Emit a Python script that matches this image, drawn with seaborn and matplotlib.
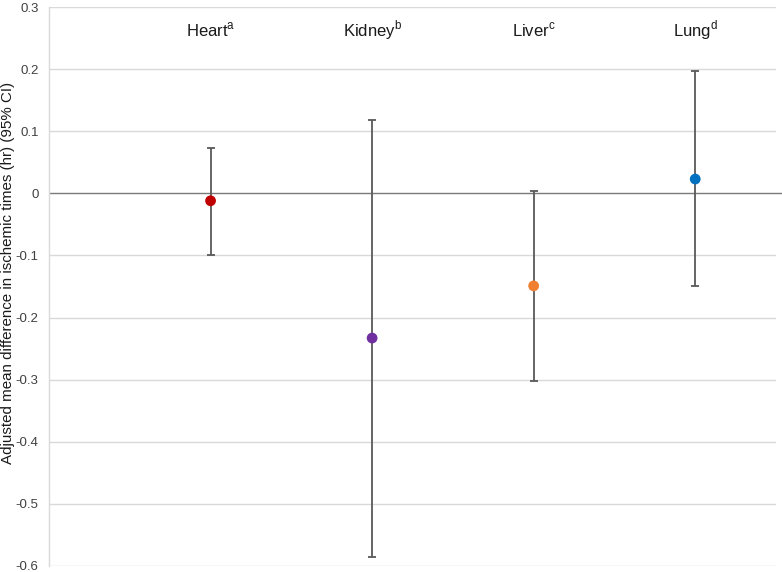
import matplotlib
matplotlib.use("Agg")
import matplotlib.pyplot as plt
import seaborn as sns
import pandas as pd

organs = ["Heart", "Kidney", "Liver", "Lung"]
superscripts = ["a", "b", "c", "d"]
estimates = [-0.012, -0.233, -0.149, 0.023]
ci_lower = [-0.100, -0.586, -0.302, -0.149]
ci_upper = [0.073, 0.118, 0.004, 0.197]
colors = ["#C00000", "#7030A0", "#F08030", "#0070C0"]
yticks = [0.3, 0.2, 0.1, 0.0, -0.1, -0.2, -0.3, -0.4, -0.5, -0.6]
ytick_labels = ["0.3", "0.2", "0.1", "0", "-0.1", "-0.2", "-0.3", "-0.4", "-0.5", "-0.6"]
ylabel = "Adjusted mean difference in ischemic times (hr) (95% CI)"

sns.set_style("white")
plt.rcParams["font.family"] = ["Liberation Sans", "DejaVu Sans"]
plt.rcParams["mathtext.fontset"] = "custom"
plt.rcParams["mathtext.rm"] = "Liberation Sans"
plt.rcParams["axes.unicode_minus"] = False

df = pd.DataFrame({"organ": organs, "x": range(len(organs)), "est": estimates,
                   "lo": ci_lower, "hi": ci_upper})

fig = plt.figure(figsize=(7.82, 5.72), dpi=100)
ax = fig.add_axes([49/782, 1-566/572, (776-49)/782, (566-7)/572])

for y in yticks:
    if y != 0:
        ax.axhline(y, color="#d9d9d9", lw=1.0, zorder=0)
ax.plot([-1.0, 3.54], [0, 0], color="#7a7a7a", lw=1.0, zorder=1, clip_on=False)

ax.errorbar(df["x"], df["est"],
            yerr=[df["est"] - df["lo"], df["hi"] - df["est"]],
            fmt="none", ecolor="#595959", elinewidth=1.3, capsize=3, capthick=1.3, zorder=2)
sns.scatterplot(data=df, x="x", y="est", hue="organ", palette=colors, s=60,
                edgecolor="none", legend=False, ax=ax, zorder=3)

for i, (o, s) in enumerate(zip(organs, superscripts)):
    ax.text(i, 0.263, o + "$^{\\mathrm{" + s + "}}$", ha="center", va="center",
            fontsize=12, color="#1a1a1a")

ax.set_xlim(-1.0, 3.5)
ax.set_ylim(-0.6, 0.3)
ax.set_yticks(yticks)
ax.set_yticklabels(ytick_labels, fontsize=9.5, color="#404040")
ax.set_xticks([])
ax.set_xlabel("")
ax.set_ylabel(ylabel, fontsize=10.9, color="#1a1a1a", va="center")
ax.yaxis.set_label_coords(-0.057, 0.524)
ax.tick_params(axis="y", length=0, pad=7.5)
for sp in ["top", "right", "bottom"]:
    ax.spines[sp].set_visible(False)
ax.spines["left"].set_color("#d9d9d9")
ax.spines["left"].set_linewidth(1.0)

fig.savefig("out.png", dpi=100)
